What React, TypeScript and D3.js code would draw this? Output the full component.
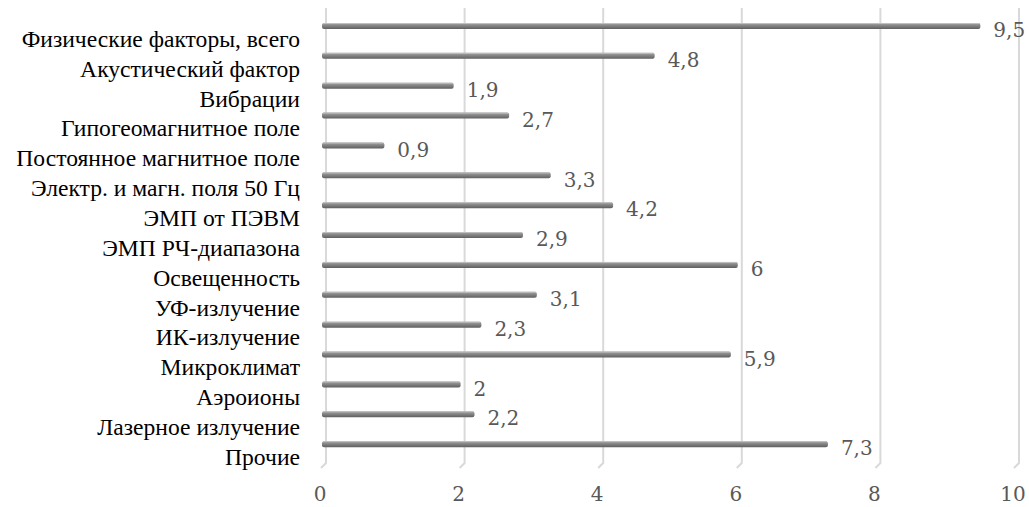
import React, { useEffect, useRef } from "react";
import * as d3 from "d3";

const categories = [
  "Физические факторы, всего",
  "Акустический фактор",
  "Вибрации",
  "Гипогеомагнитное поле",
  "Постоянное магнитное поле",
  "Электр. и магн. поля 50 Гц",
  "ЭМП от ПЭВМ",
  "ЭМП РЧ-диапазона",
  "Освещенность",
  "УФ-излучение",
  "ИК-излучение",
  "Микроклимат",
  "Аэроионы",
  "Лазерное излучение",
  "Прочие",
];
const values = [9.5, 4.8, 1.9, 2.7, 0.9, 3.3, 4.2, 2.9, 6, 3.1, 2.3, 5.9, 2, 2.2, 7.3];
const ticks = [0, 2, 4, 6, 8, 10];

const labelFont = "'Liberation Serif', 'Times New Roman', serif";
const numFont = "'DejaVu Serif', serif";

export default function App() {
  const ref = useRef<SVGSVGElement>(null);

  useEffect(() => {
    const svg = d3.select(ref.current);
    svg.selectAll("*").remove();

    const x = d3.scaleLinear().domain([0, 10]).range([322, 1015]);
    const y = d3.scaleBand<string>().domain(categories).range([12, 460]);
    const depth = 4;

    const defs = svg.append("defs");
    const grad = defs.append("linearGradient")
      .attr("id", "barGrad").attr("x1", 0).attr("x2", 0).attr("y1", 0).attr("y2", 1);
    grad.append("stop").attr("offset", "0%").attr("stop-color", "#a6a6a6");
    grad.append("stop").attr("offset", "35%").attr("stop-color", "#8c8c8c");
    grad.append("stop").attr("offset", "100%").attr("stop-color", "#5f5f5f");

    // gridlines on back wall with small floor foot
    const grid = svg.append("g");
    ticks.forEach(t => {
      const gx = x(t) + depth;
      grid.append("path")
        .attr("d", `M${gx},8 L${gx},463 L${gx - 5},468`)
        .attr("fill", "none")
        .attr("stroke", "#d9d9d9")
        .attr("stroke-width", 2);
    });

    // bars
    const bars = svg.append("g");
    categories.forEach((c, i) => {
      const cy = (y(c) ?? 0) + 14;
      const x0 = x(0);
      const x1 = x(values[i]);
      bars.append("rect")
        .attr("x", x0).attr("y", cy - 3)
        .attr("width", x1 - x0).attr("height", 6)
        .attr("rx", 2).attr("ry", 2)
        .attr("fill", "url(#barGrad)");
      bars.append("line")
        .attr("x1", x0 + 1).attr("x2", x1 - 1)
        .attr("y1", cy - 2.5).attr("y2", cy - 2.5)
        .attr("stroke", "#bfbfbf").attr("stroke-width", 1);
    });

    // value labels
    svg.append("g").selectAll("text")
      .data(categories).enter().append("text")
      .attr("x", (c, i) => x(values[i]) + 13)
      .attr("y", c => (y(c) ?? 0) + 18)
      .attr("dy", "0.36em")
      .style("font-family", numFont)
      .attr("font-size", 20)
      .attr("fill", "#595959")
      .text((c, i) => String(values[i]).replace(".", ","));

    // category labels
    svg.append("g").selectAll("text")
      .data(categories).enter().append("text")
      .attr("x", 300)
      .attr("y", c => (y(c) ?? 0) + 27)
      .attr("dy", "0.33em")
      .attr("text-anchor", "end")
      .style("font-family", labelFont)
      .attr("font-size", 23.6)
      .attr("fill", "#000")
      .text(c => c);

    // x tick labels
    svg.append("g").selectAll("text")
      .data(ticks).enter().append("text")
      .attr("x", t => x(t) - 2)
      .attr("y", 494)
      .attr("dy", "0.36em")
      .attr("text-anchor", "middle")
      .style("font-family", numFont)
      .attr("font-size", 20)
      .attr("fill", "#595959")
      .text(t => String(t));
  }, []);

  return (
    <div style={{ position: "absolute", left: 0, top: 0 }}>
      <svg ref={ref} width={1029} height={507} style={{ display: "block", background: "#fff" }} />
    </div>
  );
}
